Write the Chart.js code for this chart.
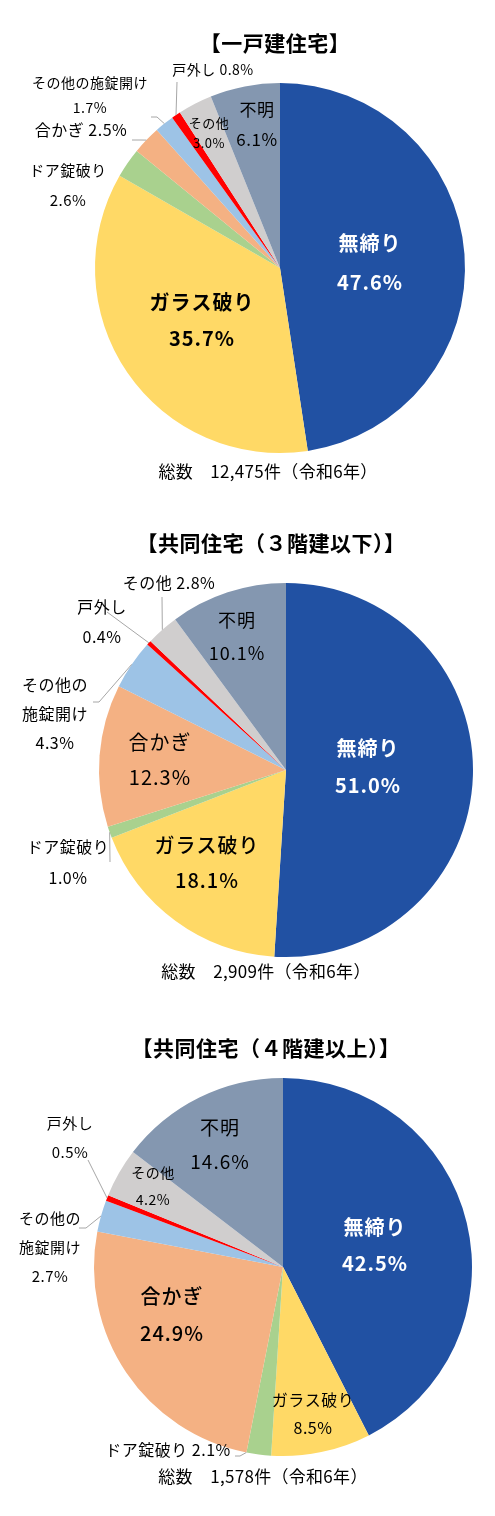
<!DOCTYPE html>
<html>
<head>
<meta charset="utf-8">
<script src="https://cdn.jsdelivr.net/npm/chart.js@4"></script>
<style>
html,body{margin:0;padding:0;background:#fff;}
#wrap{position:relative;width:495px;height:1516px;}
canvas{position:absolute;left:0;}
</style>
</head>
<body>
<div id="wrap"></div>
<script>
// ---- data ----
const categories = ['無締り','ガラス破り','ドア錠破り','合かぎ','その他の施錠開け','戸外し','その他','不明'];
const detachedValues = [47.6, 35.7, 2.6, 2.5, 1.7, 0.8, 3.0, 6.1];
const lowRiseValues  = [51.0, 18.1, 1.0, 12.3, 4.3, 0.4, 2.8, 10.1];
const highRiseValues = [42.5, 8.5, 2.1, 24.9, 2.7, 0.5, 4.2, 14.6];
const chartTitles = ['【一戸建住宅】','【共同住宅（３階建以下）】','【共同住宅（４階建以上）】'];
const totalCounts = ['12,475','2,909','1,578'];
const yearLabel = '令和6年';

// ---- styles ----
const sliceColors = ['#2151A3','#FFD966','#A9D18E','#F4B183','#9DC3E6','#FF0000','#D0CECE','#8497B0'];
const FONT = '"Noto Sans CJK JP","Noto Sans",sans-serif';

// label layouts (page coordinates), one entry per slice
// mode: 'two' = name / value, 'one' = name value, 'three' = split name at brk / value
const layouts = [
  { top:0, h:505, pad:{left:95,right:30,top:83,bottom:52}, title:{x:275,y:43}, total:{x:268,y:472},
    labels:[
      {mode:'two', x:370,y:243,gap:39,size:20,weight:'bold',color:'#fff'},
      {mode:'two', x:202,y:302,gap:36,size:20,weight:'bold',color:'#000'},
      {mode:'two', x:68,y:170,gap:30,size:15},
      {mode:'one', x:81,y:130,size:16, leader:[[132,140],[140,140]]},
      {mode:'two', x:90,y:83,gap:25,size:14, leader:[[151,117],[157,117]]},
      {mode:'one', x:213,y:70,size:14, leader:[[177,82]]},
      {mode:'two', x:209,y:123,gap:20,size:13},
      {mode:'two', x:257,y:110,gap:30,size:17}
    ]},
  { top:505, h:505, pad:{left:99,right:22,top:78,bottom:53}, title:{x:271,y:543}, total:{x:266,y:972},
    labels:[
      {mode:'two', x:368,y:748,gap:37,size:20,weight:'bold',color:'#fff'},
      {mode:'two', x:207,y:845,gap:35,size:20,weight:'500',color:'#000'},
      {mode:'two', x:68,y:847,gap:31,size:16, leader:[[110,862]]},
      {mode:'two', x:160,y:742,gap:35,size:20},
      {mode:'three', brk:4, x:55,y:685,gap:29,size:16, leader:[[93,702],[99,702]]},
      {mode:'two', x:102,y:607,gap:30,size:16, leader:[[107,612]]},
      {mode:'one', x:169,y:583,size:16, leader:[[162,597]]},
      {mode:'two', x:237,y:620,gap:33,size:18}
    ]},
  { top:1010, h:506, pad:{left:94,right:23,top:68,bottom:60}, title:{x:266,y:1048}, total:{x:263,y:1477},
    labels:[
      {mode:'two', x:375,y:1227,gap:36,size:20,weight:'bold',color:'#fff'},
      {mode:'two', x:313,y:1400,gap:28,size:16},
      {mode:'one', x:168,y:1450,size:16, leader:[[235,1456],[240,1456]], at:1},
      {mode:'two', x:172,y:1296,gap:37,size:20,weight:'500'},
      {mode:'three', brk:4, x:50,y:1218,gap:29,size:15, leader:[[79,1228],[86,1228]]},
      {mode:'two', x:70,y:1123,gap:29,size:15, leader:[[88,1160]]},
      {mode:'two', x:153,y:1173,gap:27,size:14},
      {mode:'two', x:220,y:1128,gap:34,size:19}
    ]}
];

const allValues = [detachedValues, lowRiseValues, highRiseValues];

function pct(v){ return v.toFixed(1) + '%'; }

const labelPlugin = {
  id:'labelPlugin',
  afterDatasetsDraw(chart){
    const idx = chart.options.plugins.labelPlugin.idx;
    const L = layouts[idx];
    const off = L.top;
    const ctx = chart.ctx;
    const meta = chart.getDatasetMeta(0);
    const vals = chart.data.datasets[0].data;
    ctx.save();
    ctx.textAlign = 'center';
    ctx.textBaseline = 'middle';
    // title
    ctx.fillStyle = '#000';
    ctx.letterSpacing = '0.5px';
    ctx.font = 'bold 21px ' + FONT;
    ctx.fillText(chartTitles[idx], L.title.x, L.title.y - off);
    // total
    ctx.letterSpacing = '0.3px';
    ctx.font = '17px ' + FONT;
    ctx.fillText('総数　' + totalCounts[idx] + '件（' + yearLabel + '）', L.total.x, L.total.y - off);
    // labels
    L.labels.forEach((lb, i) => {
      const name = chart.data.labels[i];
      const v = pct(vals[i]);
      let lines;
      if (lb.mode === 'one') lines = [name + ' ' + v];
      else if (lb.mode === 'three') lines = [name.slice(0, lb.brk), name.slice(lb.brk), v];
      else lines = [name, v];
      ctx.letterSpacing = lb.size >= 18 ? '1px' : '0.5px';
      ctx.font = (lb.weight ? lb.weight + ' ' : '') + lb.size + 'px ' + FONT;
      ctx.fillStyle = lb.color || '#000';
      lines.forEach((t, k) => ctx.fillText(t, lb.x, lb.y - off + k * (lb.gap || 0)));
      if (lb.leader) {
        const arc = meta.data[i];
        const at = lb.at === undefined ? 0.5 : lb.at;
        const a = arc.startAngle + (arc.endAngle - arc.startAngle) * at;
        const ex = arc.x + arc.outerRadius * Math.cos(a);
        const ey = arc.y + arc.outerRadius * Math.sin(a);
        ctx.beginPath();
        ctx.strokeStyle = '#A6A6A6';
        ctx.lineWidth = 1;
        lb.leader.forEach((p, k) => {
          if (k === 0) ctx.moveTo(p[0], p[1] - off); else ctx.lineTo(p[0], p[1] - off);
        });
        ctx.lineTo(ex, ey);
        ctx.stroke();
      }
    });
    ctx.restore();
  }
};

const wrap = document.getElementById('wrap');
layouts.forEach((L, idx) => {
  const c = document.createElement('canvas');
  c.width = 495; c.height = L.h;
  c.style.width = '495px'; c.style.height = L.h + 'px';
  c.style.top = L.top + 'px';
  wrap.appendChild(c);
  new Chart(c, {
    type:'pie',
    data:{ labels: categories, datasets:[{ data: allValues[idx], backgroundColor: sliceColors, borderWidth:0 }] },
    options:{
      responsive:false, maintainAspectRatio:false, animation:false,
      devicePixelRatio: 1,
      layout:{ padding: L.pad },
      plugins:{ legend:{display:false}, tooltip:{enabled:false}, labelPlugin:{ idx } }
    },
    plugins:[labelPlugin]
  });
});
</script>
</body>
</html>
